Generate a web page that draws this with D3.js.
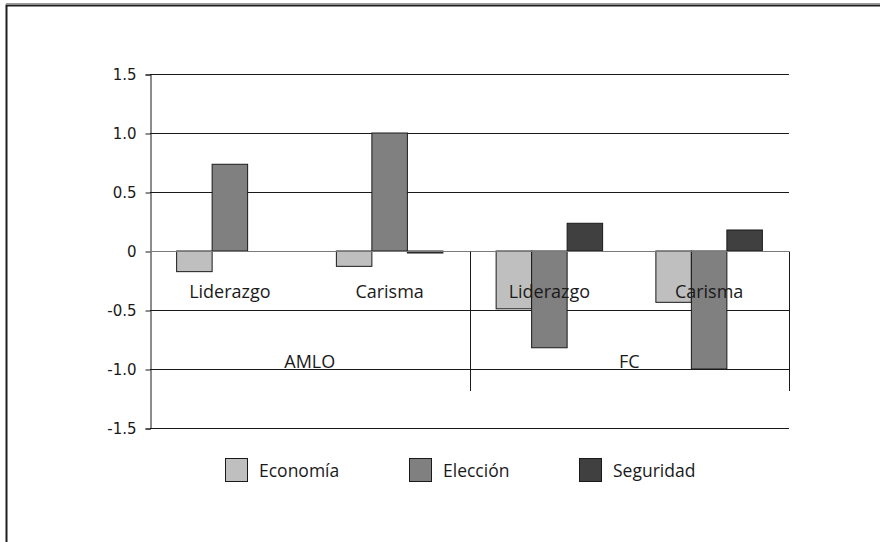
<!DOCTYPE html>
<html>
<head>
<meta charset="utf-8">
<script src="https://cdn.jsdelivr.net/npm/d3@7"></script>
<style>
  html, body { margin: 0; padding: 0; background: #fff; }
  svg { display: block; }
</style>
</head>
<body>
<svg id="chart" width="880" height="542"></svg>
<script>
// Candidates (outer axis level) and attributes (inner axis level)
const groups = ["AMLO", "FC"];
const attributes = ["Liderazgo", "Carisma"];
const series = ["Economía", "Elección", "Seguridad"];
const seriesColors = ["#bfbfbf", "#808080", "#404040"];

// Values per series, ordered AMLO-Liderazgo, AMLO-Carisma, FC-Liderazgo, FC-Carisma
const economia  = [-0.175, -0.13, -0.49, -0.435];
const eleccion  = [0.735, 1.0, -0.82, -1.0];
const seguridad = [0.0, -0.017, 0.235, 0.178];

const yTicks = [1.5, 1.0, 0.5, 0, -0.5, -1.0, -1.5];
const yTickLabels = ["1.5", "1.0", "0.5", "0", "-0.5", "-1.0", "-1.5"];

const seriesValues = [economia, eleccion, seguridad];
const cells = [];
groups.forEach(g => attributes.forEach(a => cells.push({ group: g, attr: a, key: g + "|" + a })));

const svg = d3.select("#chart");

// Outer frame
svg.append("line").attr("x1", 6).attr("x2", 880).attr("y1", 3.5).attr("y2", 3.5)
  .attr("stroke", "#9a9a9a").attr("stroke-width", 1);
svg.append("rect").attr("x", 6.5).attr("y", 5.5).attr("width", 900).attr("height", 600)
  .attr("fill", "none").attr("stroke", "#1e1e1e").attr("stroke-width", 2);

const plot = { left: 150, right: 789, top: 74, bottom: 428 };

const y = d3.scaleLinear().domain([-1.5, 1.5]).range([plot.bottom, plot.top]);
const xGroup = d3.scaleBand().domain(groups).range([plot.left, plot.right]);
const xCell = d3.scaleBand().domain(cells.map(c => c.key)).range([plot.left, plot.right]);
const xSeries = d3.scaleBand().domain(series).range([0, xCell.bandwidth()])
  .paddingInner(0).paddingOuter(0.75);

// Horizontal gridlines
svg.append("g").selectAll("line").data(yTicks.filter(t => t !== 0)).join("line")
  .attr("x1", plot.left).attr("x2", plot.right)
  .attr("y1", d => Math.round(y(d)) + 0.5).attr("y2", d => Math.round(y(d)) + 0.5)
  .attr("stroke", "#1a1a1a").attr("stroke-width", 1);

// Value axis with outward ticks
const yAxis = d3.axisLeft(y).tickValues(yTicks).tickSize(5).tickPadding(9)
  .tickFormat((d, i) => yTickLabels[i]);
const yAxisG = svg.append("g").attr("transform", `translate(${plot.left + 0.5},0.5)`).call(yAxis);
yAxisG.select(".domain").attr("stroke", "#1a1a1a");
yAxisG.selectAll(".tick line").attr("stroke", "#1a1a1a");
yAxisG.selectAll(".tick text").attr("font-family", "'DejaVu Sans', Verdana, sans-serif")
  .attr("font-size", 15).attr("fill", "#1a1a1a");

// Bars
const barData = [];
series.forEach((s, si) => cells.forEach((c, ci) => barData.push({ s, si, c, v: seriesValues[si][ci] })));
svg.append("g").selectAll("rect").data(barData).join("rect")
  .attr("x", d => xCell(d.c.key) + xSeries(d.s))
  .attr("width", xSeries.bandwidth())
  .attr("y", d => y(Math.max(0, d.v)))
  .attr("height", d => Math.abs(y(d.v) - y(0)))
  .attr("fill", d => seriesColors[d.si])
  .attr("stroke", "#1a1a1a").attr("stroke-width", 1);

// Category axis at zero
const zeroY = Math.round(y(0)) + 0.5;
svg.append("line").attr("x1", plot.left).attr("x2", plot.right)
  .attr("y1", zeroY).attr("y2", zeroY).attr("stroke", "#7a7a7a").attr("stroke-width", 1);

// Group divider ticks of the multi-level axis
const dividerBottom = 391;
const dividers = groups.map(g => xGroup(g) + xGroup.bandwidth()).map(v => Math.round(v) + 0.5);
svg.append("g").selectAll("line").data(dividers).join("line")
  .attr("x1", d => d).attr("x2", d => d)
  .attr("y1", zeroY).attr("y2", dividerBottom)
  .attr("stroke", "#1a1a1a").attr("stroke-width", 1);

const labelFont = "'Open Sans', 'Noto Sans', sans-serif";

// Inner category labels
svg.append("g").selectAll("text").data(cells).join("text")
  .attr("x", d => xCell(d.key) + xCell.bandwidth() / 2)
  .attr("y", 298)
  .attr("text-anchor", "middle")
  .attr("font-family", labelFont).attr("font-size", 18).attr("fill", "#1a1a1a")
  .text(d => d.attr);

// Outer group labels
svg.append("g").selectAll("text").data(groups).join("text")
  .attr("x", d => xGroup(d) + xGroup.bandwidth() / 2)
  .attr("y", 368)
  .attr("text-anchor", "middle")
  .attr("font-family", labelFont).attr("font-size", 18).attr("fill", "#1a1a1a")
  .text(d => d);

// Legend
const legendX = [225, 409, 579];
const legend = svg.append("g").selectAll("g").data(series).join("g")
  .attr("transform", (d, i) => `translate(${legendX[i]},458)`);
legend.append("rect").attr("x", 0.5).attr("y", 0.5).attr("width", 22).attr("height", 23)
  .attr("fill", (d, i) => seriesColors[i]).attr("stroke", "#1a1a1a").attr("stroke-width", 1);
legend.append("text").attr("x", 34).attr("y", 19)
  .attr("font-family", labelFont).attr("font-size", 17.5).attr("fill", "#1a1a1a")
  .text(d => d);
</script>
</body>
</html>
